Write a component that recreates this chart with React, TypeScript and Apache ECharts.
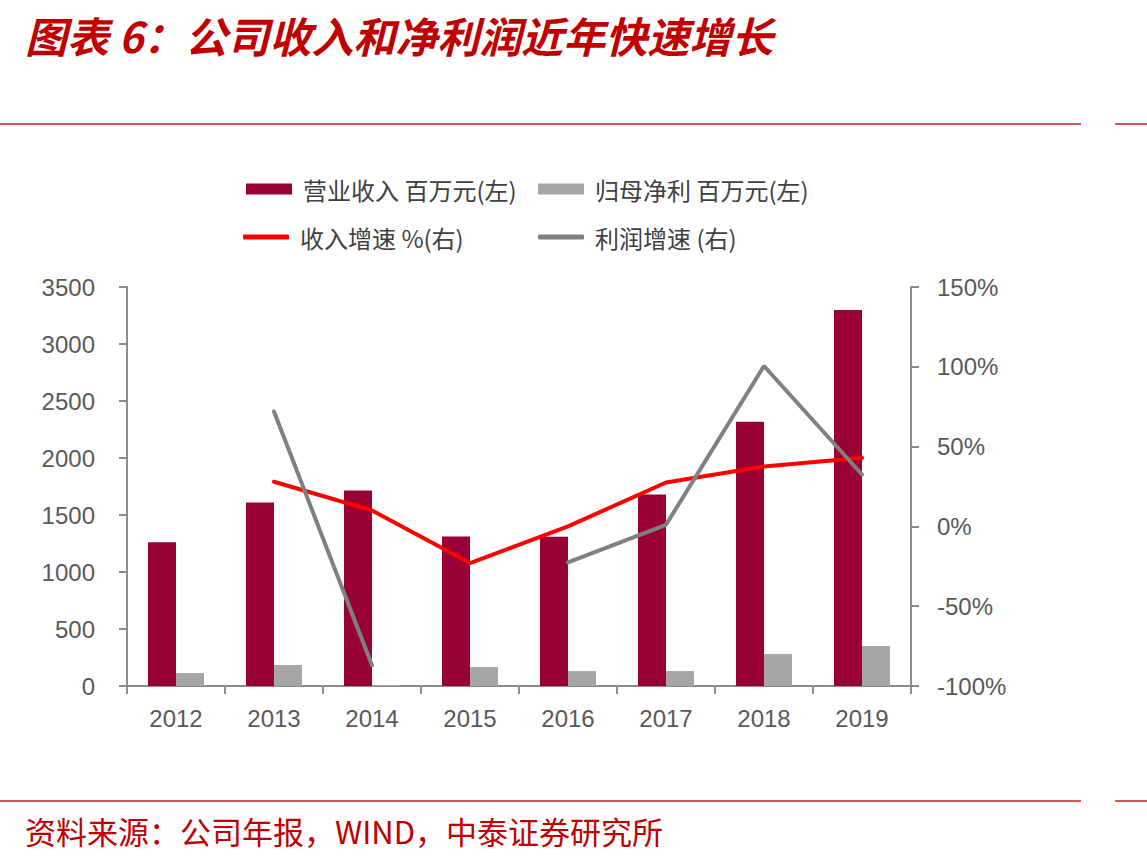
import React, { useEffect, useRef } from "react";
import * as echarts from "echarts";

const years = ["2012", "2013", "2014", "2015", "2016", "2017", "2018", "2019"];
const revenue = [1260, 1610, 1715, 1312, 1310, 1680, 2319, 3299];
const netProfit = [114, 184, 8, 166, 131, 131, 280, 350];
const revenueGrowth = [null, 28, 10, -23, 0, 27.5, 37.5, 43];
const profitGrowth = [null, 72, -87, null, -22.5, 1, 100.5, 32.5];
const leftTicks = { min: 0, max: 3500, interval: 500 };
const rightTicks = { min: -100, max: 150, interval: 50 };

const titleText = "图表 6：公司收入和净利润近年快速增长";
const sourceText = "资料来源：公司年报，WIND，中泰证券研究所";
const names = ["营业收入 百万元(左)", "归母净利 百万元(左)", "收入增速 %(右)", "利润增速 (右)"];

const RED_BAR = "#990033";
const GRAY_BAR = "#A6A6A6";
const RED_LINE = "#FF0000";
const GRAY_LINE = "#808080";
const AXIS = "#8C8C8C";
const LABEL = "#595959";
const CJK = "'Noto Sans CJK SC', sans-serif";
const LATIN = "'Liberation Sans', Arial, sans-serif";

export default function App() {
  const ref = useRef<HTMLDivElement>(null);
  useEffect(() => {
    document.body.style.margin = "0";
    const chart = echarts.init(ref.current!, null, { renderer: "svg" });
    const legendText = { color: "#404040", fontSize: 24, fontFamily: CJK, padding: [0, 0, 0, 6] };
    const mkLegend = (name: string, left: number, top: number, h: number, icon: string) => ({
      data: [name],
      left,
      top,
      itemWidth: 46,
      itemHeight: h,
      icon,
      textStyle: legendText,
    });
    chart.setOption({
      animation: false,
      backgroundColor: "#fff",
      legend: [
        mkLegend(names[0], 241, 172, 11, "rect"),
        mkLegend(names[1], 533, 172, 11, "rect"),
        mkLegend(names[2], 238, 220, 5, "roundRect"),
        mkLegend(names[3], 533, 220, 5, "roundRect"),
      ],
      grid: { left: 127, right: 236, top: 287, bottom: 180 },
      xAxis: {
        type: "category",
        data: years,
        boundaryGap: true,
        axisLine: { lineStyle: { color: AXIS, width: 2 } },
        axisTick: { show: true, length: 8, lineStyle: { color: AXIS, width: 2 } },
        axisLabel: { color: LABEL, fontSize: 24, fontFamily: LATIN, margin: 20 },
      },
      yAxis: [
        {
          type: "value",
          ...leftTicks,
          axisLine: { show: true, lineStyle: { color: AXIS, width: 2 } },
          axisTick: { show: true, length: 8, lineStyle: { color: AXIS, width: 2 } },
          splitLine: { show: false },
          axisLabel: {
            color: LABEL,
            fontSize: 24,
            fontFamily: LATIN,
            margin: 32,
            formatter: (v: number) => String(v),
          },
        },
        {
          type: "value",
          ...rightTicks,
          position: "right",
          axisLine: { show: true, lineStyle: { color: AXIS, width: 2 } },
          axisTick: { show: true, length: 8, lineStyle: { color: AXIS, width: 2 } },
          splitLine: { show: false },
          axisLabel: { color: LABEL, fontSize: 24, fontFamily: LATIN, margin: 26, formatter: "{value}%" },
        },
      ],
      series: [
        {
          name: names[0],
          type: "bar",
          data: revenue,
          barWidth: 28,
          barGap: "0%",
          itemStyle: { color: RED_BAR },
        },
        {
          name: names[1],
          type: "bar",
          data: netProfit,
          barWidth: 28,
          barGap: "0%",
          itemStyle: { color: GRAY_BAR },
        },
        {
          name: names[2],
          type: "line",
          yAxisIndex: 1,
          data: revenueGrowth,
          showSymbol: false,
          symbol: "none",
          lineStyle: { color: RED_LINE, width: 4, cap: "round" },
          itemStyle: { color: RED_LINE },
        },
        {
          name: names[3],
          type: "line",
          yAxisIndex: 1,
          data: profitGrowth,
          connectNulls: false,
          showSymbol: false,
          symbol: "none",
          lineStyle: { color: GRAY_LINE, width: 4, cap: "round" },
          itemStyle: { color: GRAY_LINE },
        },
      ],
      graphic: [
        {
          type: "text",
          x: 25,
          y: 34,
          style: {
            text: titleText,
            fill: "#C00000",
            fontSize: 42,
            fontWeight: "bold",
            fontStyle: "italic",
            fontFamily: CJK,
            verticalAlign: "middle",
          },
        },
        { type: "line", shape: { x1: 0, y1: 124, x2: 1081, y2: 124 }, style: { stroke: "#D05A5A", lineWidth: 2 } },
        { type: "line", shape: { x1: 1115, y1: 124, x2: 1147, y2: 124 }, style: { stroke: "#D05A5A", lineWidth: 2 } },
        { type: "line", shape: { x1: 0, y1: 801, x2: 1081, y2: 801 }, style: { stroke: "#D05A5A", lineWidth: 2 } },
        { type: "line", shape: { x1: 1115, y1: 801, x2: 1147, y2: 801 }, style: { stroke: "#D05A5A", lineWidth: 2 } },
        {
          type: "text",
          left: 25,
          top: 815,
          style: { text: sourceText, fill: "#C00000", fontSize: 31, fontFamily: CJK },
        },
      ],
    });
    return () => chart.dispose();
  }, []);
  return <div ref={ref} style={{ width: 1147, height: 866 }} />;
}
